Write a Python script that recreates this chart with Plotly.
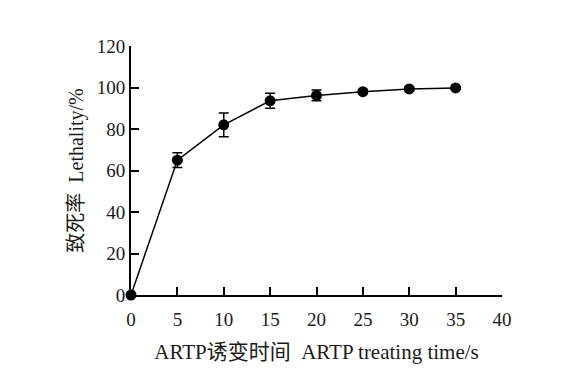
import plotly.graph_objects as go

times = [0, 5, 10, 15, 20, 25, 30, 35]
lethality = [0, 65, 82, 93.6, 96.2, 98, 99.3, 99.8]
errors = [0, 3.5, 5.7, 3.6, 2.6, 1.0, 0.8, 0.6]
x_ticks = [0, 5, 10, 15, 20, 25, 30, 35, 40]
y_ticks = [0, 20, 40, 60, 80, 100, 120]

font_family = "Liberation Serif, Times New Roman, Noto Sans CJK SC, serif"

fig = go.Figure()
fig.add_trace(go.Scatter(
    x=times, y=lethality,
    mode="lines+markers",
    line=dict(color="black", width=1.5),
    marker=dict(color="black", size=11),
    error_y=dict(type="data", array=errors, visible=True, color="black", thickness=1.5, width=5),
    cliponaxis=False,
    showlegend=False,
))

fig.update_layout(
    width=554, height=364,
    margin=dict(l=123, r=60, t=38, b=77),
    paper_bgcolor="white", plot_bgcolor="white",
    font=dict(family=font_family, size=19, color="#1a1a1a"),
    xaxis=dict(
        range=[0, 40], tickvals=x_ticks, ticktext=[str(v) for v in x_ticks],
        showline=True, linecolor="black", linewidth=2,
        ticks="inside", ticklen=8, tickwidth=2, tickcolor="black",
        ticklabelstandoff=6,
        showgrid=False, zeroline=False, automargin=False,
        title=dict(text="ARTP诱变时间  ARTP treating time/s", standoff=16, font=dict(size=21)),
    ),
    yaxis=dict(
        range=[0, 120], tickvals=y_ticks, ticktext=[str(v) for v in y_ticks],
        showline=True, linecolor="black", linewidth=2,
        ticks="inside", ticklen=8, tickwidth=2, tickcolor="black",
        showgrid=False, zeroline=False, automargin=False,
        title=dict(text="致死率  Lethality/%", standoff=8, font=dict(size=20)),
    ),
)

fig.write_html("out.html")
